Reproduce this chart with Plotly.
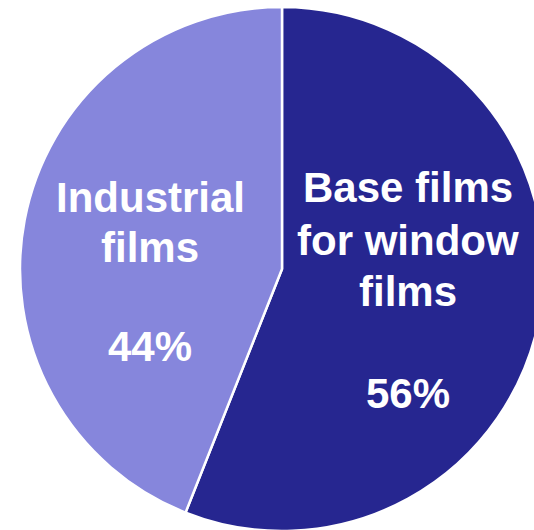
import plotly.graph_objects as go

# Share of film sales by segment
segments = ["Base films for window films", "Industrial films"]
label_lines = [["Base films", "for window", "films"], ["Industrial", "films"]]
shares = [56, 44]
colors = ["#262690", "#8686dc"]

W, H = 564, 532
top, bottom = 7, 1
plot_h = H - top - bottom

fig = go.Figure(
    go.Pie(
        labels=segments,
        values=shares,
        sort=False,
        direction="clockwise",
        rotation=0,
        marker=dict(colors=colors, line=dict(color="white", width=2.5)),
        textinfo="none",
        hoverinfo="label+percent",
        showlegend=False,
        domain=dict(x=[0, 1], y=[0, 1]),
    )
)

# Pixel centres for each label: x, y of each name line, y of the percentage
label_x = [408, 150]
name_line_y = [[187, 240, 291], [198, 247]]
pct_y = [393, 346]

font = dict(family="Liberation Sans, Arial, sans-serif", size=42, color="white")


def add_text(text, px, py):
    fig.add_annotation(
        text=f"<b>{text}</b>",
        x=px / W,
        y=(H - bottom - py) / plot_h,
        xref="paper",
        yref="paper",
        xanchor="center",
        yanchor="middle",
        showarrow=False,
        font=font,
    )


for lines, px, ys, py_pct, val in zip(label_lines, label_x, name_line_y, pct_y, shares):
    for line, py in zip(lines, ys):
        add_text(line, px, py)
    add_text(f"{val}%", px, py_pct)

fig.update_layout(
    width=W,
    height=H,
    margin=dict(l=0, r=0, t=top, b=bottom, pad=0),
    paper_bgcolor="white",
    plot_bgcolor="white",
)

fig.write_html(
    "out.html",
    post_script="document.body.style.margin='0';document.body.style.overflow='hidden';",
)
